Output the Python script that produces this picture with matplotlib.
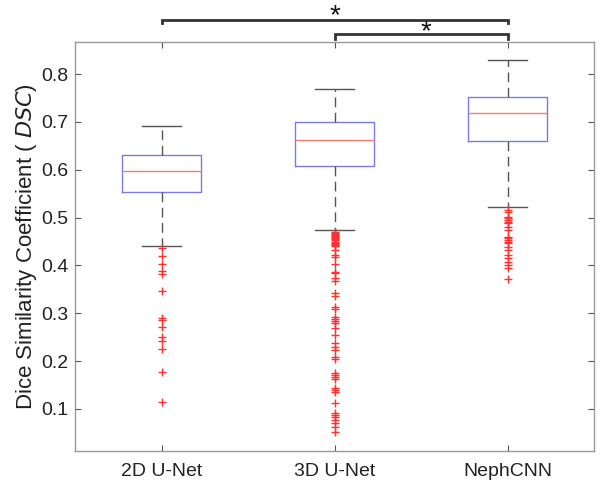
import matplotlib
matplotlib.use("Agg")
import matplotlib.pyplot as plt

plt.rcParams['font.family'] = ['Liberation Sans', 'DejaVu Sans']

categories = ["2D U-Net", "3D U-Net", "NephCNN"]
medians = [0.598, 0.663, 0.7185]
q1 = [0.553, 0.608, 0.659]
q3 = [0.631, 0.699, 0.751]
whislo = [0.441, 0.474, 0.5215]
whishi = [0.691, 0.768, 0.829]

outliers_2d = [0.436, 0.419, 0.403, 0.389, 0.383, 0.347, 0.289, 0.286, 0.272,
               0.251, 0.241, 0.225, 0.178, 0.115]
outliers_3d = [0.4705, 0.468, 0.465, 0.4636, 0.462, 0.46, 0.4567, 0.455, 0.452,
               0.4497, 0.447, 0.445, 0.4427, 0.44, 0.4323, 0.4218, 0.417, 0.403,
               0.387, 0.3836, 0.373, 0.368, 0.342, 0.335, 0.3125, 0.3083, 0.293,
               0.2875, 0.284, 0.2803, 0.2686, 0.2547, 0.2373, 0.2303, 0.2233,
               0.2094, 0.204, 0.1759, 0.1717, 0.1675, 0.162, 0.1433, 0.1397,
               0.1363, 0.112, 0.091, 0.0875, 0.084, 0.077, 0.070, 0.0618, 0.0526]
outliers_neph = [0.5158, 0.5123, 0.502, 0.4985, 0.495, 0.4915, 0.488, 0.481,
                 0.474, 0.460, 0.4567, 0.453, 0.4497, 0.446, 0.439, 0.4323,
                 0.4218, 0.415, 0.408, 0.401, 0.394, 0.371]
outliers = [outliers_2d, outliers_3d, outliers_neph]

yticks = [0.1, 0.2, 0.3, 0.4, 0.5, 0.6, 0.7, 0.8]
sig_pairs = [(1, 3), (2, 3)]

stats = []
for i in range(3):
    stats.append(dict(med=medians[i], q1=q1[i], q3=q3[i], whislo=whislo[i],
                      whishi=whishi[i], fliers=outliers[i], label=categories[i]))

fig = plt.figure(figsize=(6, 4.84), dpi=100)
ax = fig.add_axes([0.125, 0.0682, 0.865, 0.8456])

ax.bxp(stats, positions=[1, 2, 3], widths=0.455, showfliers=True,
       boxprops=dict(color='#7b7be0', linewidth=1.0),
       medianprops=dict(color='#f08070', linewidth=1.0),
       whiskerprops=dict(color='#555555', linewidth=1.0, linestyle=(0, (7, 4))),
       capprops=dict(color='#555555', linewidth=1.0),
       capwidths=0.225,
       flierprops=dict(marker='+', markeredgecolor='#ff3030', markersize=5.5,
                       markeredgewidth=1.0, linestyle='none'))

ax.set_xlim(0.5, 3.5)
ax.set_ylim(0.012, 0.8675)
ax.set_yticks(yticks)
ax.set_yticklabels([f"{v:.1f}" for v in yticks])
ax.set_xticks([1, 2, 3])
ax.set_xticklabels(categories)
ax.tick_params(axis='both', labelsize=14, direction='in', length=4, color='#555555',
               labelcolor='#222222', top=True, right=True)
ax.tick_params(axis='x', pad=9)
ax.tick_params(axis='y', pad=5)
for s in ax.spines.values():
    s.set_color('#999999')
    s.set_linewidth(1.0)

ax.set_ylabel(r"Dice Similarity Coefficient ( $\it{DSC}$)", fontsize=16, color='#222222',
              labelpad=1)

# significance brackets
levels = [(0.913, 0.906, 0.9065), (0.8836, 0.874, 0.8735)]
for (a, b), (ytop, yhook, ystar) in zip(sig_pairs, levels):
    ax.plot([a, a, b, b], [yhook, ytop, ytop, yhook], color='#333333', linewidth=2,
            clip_on=False, solid_joinstyle='miter')
    ax.text((a + b) / 2 + (0.026 if a == 2 else 0.0), ystar, '*', ha='center', va='baseline',
            fontsize=20, color='#111111', clip_on=False)

fig.savefig("out.png", dpi=100)
